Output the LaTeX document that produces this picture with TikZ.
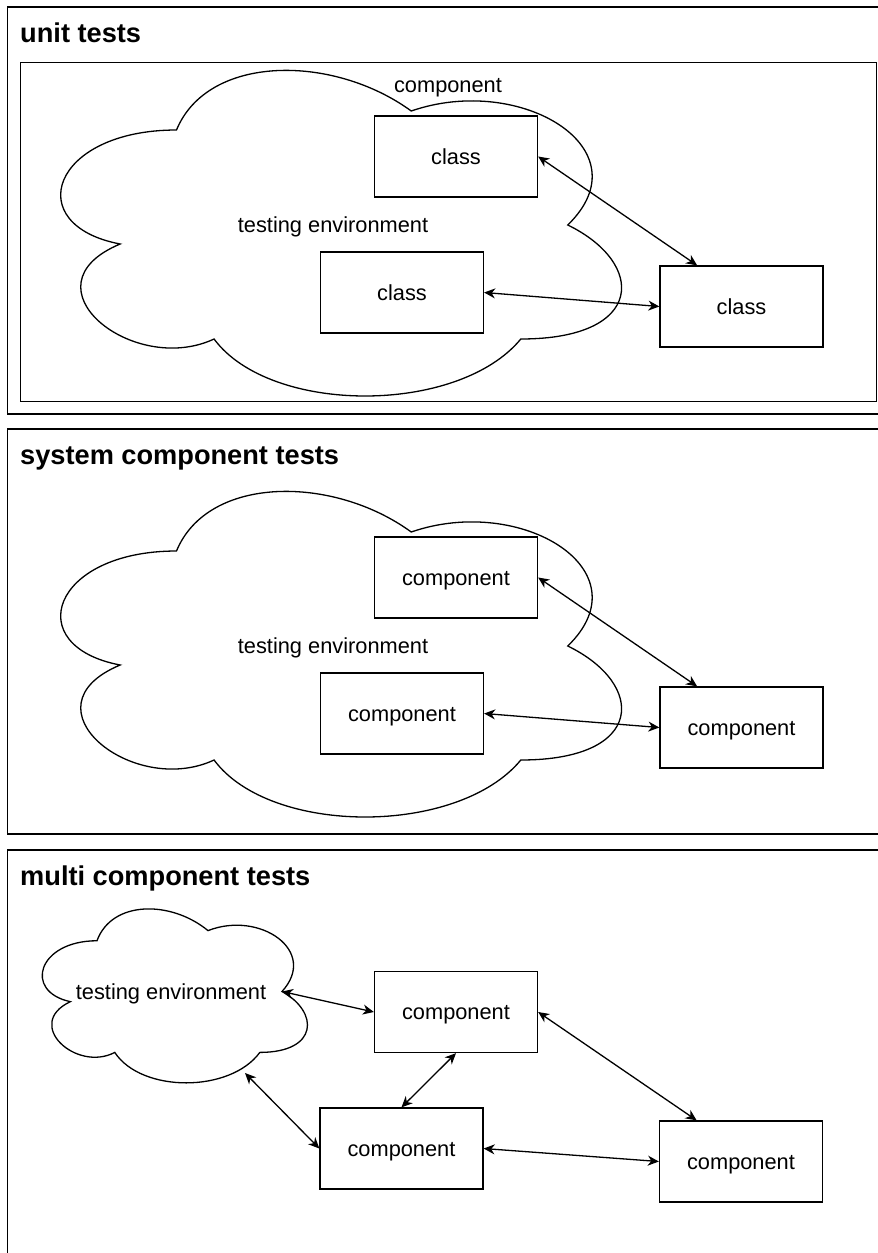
\documentclass[tikz,border=0pt]{standalone}
\usepackage{fontspec}
\setmainfont{Liberation Sans}
\usetikzlibrary{arrows.meta,calc}
\tikzset{
  frameline/.style={draw=black, line width=1.4pt},
  cloudline/.style={draw=black, line width=1.3pt, fill=white},
  box/.style={draw=black, fill=white, line width=1.3pt, minimum width=163pt,
    minimum height=81pt, inner sep=0pt, font=\fontsize{21.8}{26}\selectfont,
    text height=19.7pt, text depth=4.6pt},
  lbl/.style={inner sep=0pt, font=\fontsize{21.8}{26}\selectfont,
    text height=19.7pt, text depth=4.6pt},
  ttl/.style={inner sep=0pt, anchor=west, font=\fontsize{27.2}{32}\selectfont\bfseries,
    text height=19.6pt, text depth=5.7pt},
  biarrow/.style={draw=black, line width=1.3pt,
    {Stealth[length=11pt,width=10pt,inset=3.5pt]}-{Stealth[length=11pt,width=10pt,inset=3.5pt]}}
}
\newcommand{\drawiocloud}[4]{%
  \path[cloudline] ({#1+0.25*#3},{#2+0.25*#4})
   .. controls ({#1+0.05*#3},{#2+0.25*#4}) and ({#1},{#2+0.5*#4}) .. ({#1+0.16*#3},{#2+0.55*#4})
   .. controls ({#1},{#2+0.66*#4}) and ({#1+0.18*#3},{#2+0.9*#4}) .. ({#1+0.31*#3},{#2+0.8*#4})
   .. controls ({#1+0.4*#3},{#2+#4}) and ({#1+0.7*#3},{#2+#4}) .. ({#1+0.8*#3},{#2+0.8*#4})
   .. controls ({#1+#3},{#2+0.8*#4}) and ({#1+#3},{#2+0.6*#4}) .. ({#1+0.875*#3},{#2+0.5*#4})
   .. controls ({#1+#3},{#2+0.3*#4}) and ({#1+0.8*#3},{#2+0.1*#4}) .. ({#1+0.625*#3},{#2+0.2*#4})
   .. controls ({#1+0.5*#3},{#2+0.05*#4}) and ({#1+0.3*#3},{#2+0.05*#4}) .. cycle;}
\begin{document}
\begin{tikzpicture}[x=1pt,y=-1pt]
\path[use as bounding box, fill=white] (0,0) rectangle (878,1253);

% ---------- panel 1: unit tests ----------
\path[frameline] (878,7) -- (7.5,7) -- (7.5,414) -- (878,414);
\node[ttl] (t1) at (20,36) {unit tests};
\node[draw=black, line width=1.3pt, anchor=north west, minimum width=856pt,
      minimum height=339pt, inner sep=0pt] (comp1) at (20,62) {};
\drawiocloud{20}{35}{626}{380}
\node[lbl] (complbl) at (448,85) {component};
\node[lbl] (env1) at (333,225) {testing environment};
\node[box] (c1a) at (456,156.5) {class};
\node[box] (c1b) at (402,292.5) {class};
\node[box] (c1c) at (741.5,306.5) {class};
\draw[biarrow] (c1a.east) -- ($(c1c.north west)!0.23!(c1c.north east)$);
\draw[biarrow] (c1b.east) -- (c1c.west);

% ---------- panel 2: system component tests ----------
\path[frameline] (878,429) -- (7.5,429) -- (7.5,834) -- (878,834);
\node[ttl] (t2) at (20,458) {system component tests};
\drawiocloud{20}{456}{626}{380}
\node[lbl] (env2) at (333,646) {testing environment};
\node[box] (c2a) at (456,577.5) {component};
\node[box] (c2b) at (402,713.5) {component};
\node[box] (c2c) at (741.5,727.5) {component};
\draw[biarrow] (c2a.east) -- ($(c2c.north west)!0.23!(c2c.north east)$);
\draw[biarrow] (c2b.east) -- (c2c.west);

% ---------- panel 3: multi component tests ----------
\path[frameline] (878,850) -- (7.5,850) -- (7.5,1253);
\node[ttl] (t3) at (20,879) {multi component tests};
\drawiocloud{23}{890}{296}{203}
\node[lbl] (env3) at (171,991.5) {testing environment};
\coordinate (env3e) at (282,991.5);
\coordinate (env3se) at (245,1073);
\node[box] (c3a) at (456,1012) {component};
\node[box] (c3b) at (401.5,1148.5) {component};
\node[box] (c3c) at (741,1161.5) {component};
\draw[biarrow] (env3e) -- (c3a.west);
\draw[biarrow] (env3se) -- (c3b.west);
\draw[biarrow] (c3a.south) -- (c3b.north);
\draw[biarrow] (c3a.east) -- ($(c3c.north west)!0.23!(c3c.north east)$);
\draw[biarrow] (c3b.east) -- (c3c.west);
\end{tikzpicture}
\end{document}
